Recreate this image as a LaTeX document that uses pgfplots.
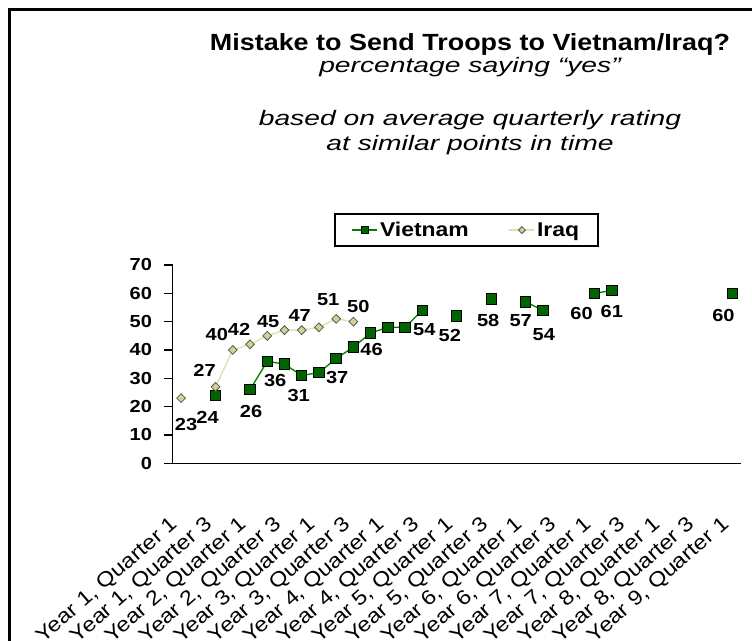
\documentclass[border=0pt]{standalone}
\usepackage{fontspec}
\setmainfont{Liberation Sans}[FakeStretch=1.15]
\newfontfamily\itfont{Liberation Sans}[FakeStretch=1.35]
\usepackage{pgfplots}
\pgfplotsset{compat=1.18}
\definecolor{vfill}{RGB}{0,100,0}
\definecolor{vline}{RGB}{0,128,0}
\definecolor{ifill}{RGB}{208,208,160}
\definecolor{iline}{RGB}{222,222,180}
\definecolor{iedge}{RGB}{90,90,60}

\pgfplotstableread{
x y
0 nan
1 nan
2 24
3 nan
4 26
5 36
6 35
7 31
8 32
9 37
10 41
11 46
12 48
13 48
14 54
15 nan
16 52
17 nan
18 58
19 nan
20 57
21 54
22 nan
23 nan
24 60
25 61
26 nan
27 nan
28 nan
29 nan
30 nan
31 nan
32 60
}\vietnam

\pgfplotstableread{
x y
0 23
1 nan
2 27
3 40
4 42
5 45
6 47
7 47
8 48
9 51
10 50
}\iraq

\pgfplotstableread{
x y dx dy
2 24 -8 -22
4 26 1 -22
5 36 8 -19
7 31 -3 -20
9 37 1 -19
11 46 1 -17
14 54 2 -19
16 52 -7 -20
18 58 -3 -22
20 57 -5 -19
21 54 1 -24
24 60 -13 -20
25 61 0 -21
32 60 -9 -22
}\vlabels

\pgfplotstableread{
x y dx dy
0 23 5 -26
2 27 -11 16
3 40 -16 16
4 42 -11 15
5 45 1 14
7 47 -2 15
9 51 -8 19
10 50 5 15
}\ilabels

\begin{document}
\begin{tikzpicture}[x=1bp,y=1bp]
\path[use as bounding box] (0,0) rectangle (752,641);
\fill[white] (0,0) rectangle (752,641);
\draw[line width=2.6bp] (9.5,-20) -- (9.5,631.5) -- (780,631.5);

\node[anchor=base, font=\bfseries\fontsize{23.5}{28}\selectfont] at (470,590) {Mistake to Send Troops to Vietnam/Iraq?};
\node[anchor=base, font=\itfont\itshape\fontsize{21}{25}\selectfont] at (470,568) {percentage saying “yes”};
\node[anchor=base, font=\itfont\itshape\fontsize{21}{25}\selectfont] at (470,515) {based on average quarterly rating};
\node[anchor=base, font=\itfont\itshape\fontsize{21}{25}\selectfont] at (470,490) {at similar points in time};

\begin{axis}[
  at={(172.5bp,177.7bp)}, anchor=south west, scale only axis,
  width=568.5bp, height=198.3bp,
  xmin=-0.5, xmax=32.5, ymin=0, ymax=70,
  axis x line*=bottom, axis y line*=left,
  axis line style={-, line width=1.3bp, black},
  ytick={0,10,...,70},
  xtick={0,2,...,32},
  xticklabels={{Year 1, Quarter 1},{Year 1, Quarter 3},{Year 2, Quarter 1},{Year 2, Quarter 3},{Year 3, Quarter 1},{Year 3, Quarter 3},{Year 4, Quarter 1},{Year 4, Quarter 3},{Year 5, Quarter 1},{Year 5, Quarter 3},{Year 6, Quarter 1},{Year 6, Quarter 3},{Year 7, Quarter 1},{Year 7, Quarter 3},{Year 8, Quarter 1},{Year 8, Quarter 3},{Year 9, Quarter 1}},
  xtick style={draw=none},
  ytick style={line width=1.3bp, black},
  tick align=outside, major tick length=9bp,
  /pgf/number format/assume math mode=true,
  yticklabel style={font=\bfseries\fontsize{17.5}{17.5}\selectfont, xshift=-8bp},
  xticklabel style={font=\fontsize{20.5}{20.5}\selectfont, xshift=-4bp, rotate=41, anchor=east, inner sep=2bp},
  xticklabel shift=48bp,
  unbounded coords=jump,
  clip=false,
  legend columns=2,
  legend style={at={(0.517,1.176)}, anchor=center, draw=black, line width=1.5bp,
    font=\bfseries\fontsize{20}{22}\selectfont, inner xsep=17bp, inner ysep=6bp,
    /tikz/every even column/.append style={column sep=38bp}},
  legend image code/.code={\draw[mark repeat=2, mark phase=2, #1, mark size=3.5bp] plot coordinates {(0bp,0bp) (12.5bp,0bp) (25bp,0bp)};},
]
\addplot[color=vline, line width=1.3bp, mark=square*, mark size=5.2bp,
  mark options={fill=vfill, draw=black, line width=1bp, solid}] table[x=x,y=y] {\vietnam};
\addlegendentry{Vietnam}
\addplot[color=iline, line width=1.3bp, mark=diamond*, mark size=4.4bp,
  mark options={fill=ifill, draw=iedge, line width=0.8bp, solid, xscale=1.33}] table[x=x,y=y] {\iraq};
\addlegendentry{Iraq}

\addplot[draw=none, mark=none, forget plot, nodes near coords, point meta=y,
  visualization depends on={\thisrow{dx} \as \dx},
  visualization depends on={\thisrow{dy} \as \dy},
  every node near coord/.append style={font=\bfseries\fontsize{17.5}{17.5}\selectfont, anchor=center, inner sep=0pt, xshift=\dx, yshift=\dy}]
  table[x=x,y=y] {\vlabels};
\addplot[draw=none, mark=none, forget plot, nodes near coords, point meta=y,
  visualization depends on={\thisrow{dx} \as \dx},
  visualization depends on={\thisrow{dy} \as \dy},
  every node near coord/.append style={font=\bfseries\fontsize{17.5}{17.5}\selectfont, anchor=center, inner sep=0pt, xshift=\dx, yshift=\dy}]
  table[x=x,y=y] {\ilabels};
\end{axis}
\end{tikzpicture}
\end{document}
